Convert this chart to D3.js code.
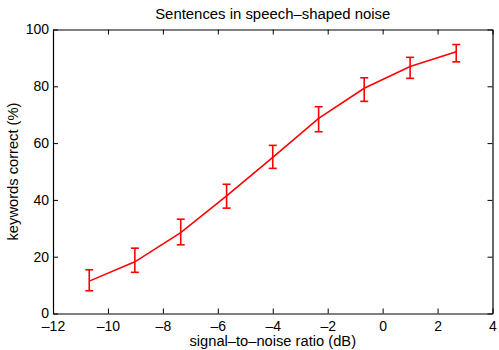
<!DOCTYPE html>
<html>
<head>
<meta charset="utf-8">
<script src="https://cdn.jsdelivr.net/npm/d3@7"></script>
<style>
  html, body { margin: 0; padding: 0; background: #fff; }
  svg text { font-family: "Liberation Sans", Arial, Helvetica, sans-serif; fill: #000; }
</style>
</head>
<body>
<div id="chart"></div>
<script>
// Speech intelligibility: keywords correct vs. SNR, with error bars
const snr      = [-10.68, -9.02, -7.35, -5.68, -4.0, -2.33, -0.67, 1.0, 2.68];
const correct  = [11.4, 18.2, 28.5, 41.4, 55.0, 68.7, 79.3, 87.0, 92.2];
const errUpper = [15.4, 23.0, 33.2, 45.5, 59.2, 72.8, 83.0, 90.2, 94.7];
const errLower = [8.0, 14.5, 24.2, 37.1, 51.1, 64.0, 74.7, 82.8, 88.6];
const xTicks = [-12, -10, -8, -6, -4, -2, 0, 2, 4];
const yTicks = [0, 20, 40, 60, 80, 100];

const W = 499, H = 350;
const margin = { left: 53, right: 6.5, top: 29.5, bottom: 36.5 };

const svg = d3.select("#chart").append("svg")
  .attr("width", W).attr("height", H);

const x = d3.scaleLinear().domain([-12, 4]).range([margin.left, W - margin.right]);
const y = d3.scaleLinear().domain([0, 100]).range([H - margin.bottom, margin.top]);

const fmt = d => (d < 0 ? "\u2013" + Math.abs(d) : String(d));

// Axes with inward ticks, box style
const gx = svg.append("g").attr("transform", `translate(0,${y(0)})`)
  .call(d3.axisBottom(x).tickValues(xTicks).tickSizeInner(-5).tickSizeOuter(0).tickPadding(8).tickFormat(fmt));
const gxTop = svg.append("g").attr("transform", `translate(0,${y(100)})`)
  .call(d3.axisTop(x).tickValues(xTicks).tickSizeInner(-5).tickSizeOuter(0).tickFormat(""));
const gy = svg.append("g").attr("transform", `translate(${x(-12)},0)`)
  .call(d3.axisLeft(y).tickValues(yTicks).tickSizeInner(-5).tickSizeOuter(0).tickPadding(4).tickFormat(fmt));
const gyRight = svg.append("g").attr("transform", `translate(${x(4)},0)`)
  .call(d3.axisRight(y).tickValues(yTicks).tickSizeInner(-5).tickSizeOuter(0).tickFormat(""));

[gx, gxTop, gy, gyRight].forEach(g => {
  g.select(".domain").attr("stroke", "#000").attr("stroke-width", 1.2);
  g.selectAll(".tick line").attr("stroke", "#000").attr("stroke-width", 1);
  g.selectAll(".tick text").attr("font-size", 14).attr("font-family", "Liberation Sans, Arial, sans-serif").attr("fill", "#000");
});

// Data line
const line = d3.line().x((d, i) => x(snr[i])).y(d => y(d));
svg.append("path")
  .datum(correct)
  .attr("d", line)
  .attr("fill", "none")
  .attr("stroke", "#ff0000")
  .attr("stroke-width", 1.6);

// Error bars
const cap = 4;
const eb = svg.append("g").attr("stroke", "#ff0000").attr("stroke-width", 1.6);
snr.forEach((s, i) => {
  const cx = x(s);
  eb.append("line").attr("x1", cx).attr("x2", cx).attr("y1", y(errUpper[i])).attr("y2", y(errLower[i]));
  eb.append("line").attr("x1", cx - cap).attr("x2", cx + cap).attr("y1", y(errUpper[i])).attr("y2", y(errUpper[i]));
  eb.append("line").attr("x1", cx - cap).attr("x2", cx + cap).attr("y1", y(errLower[i])).attr("y2", y(errLower[i]));
});

// Titles
const midX = (x(-12) + x(4)) / 2;
svg.append("text")
  .attr("x", midX).attr("y", 18.5)
  .attr("text-anchor", "middle").attr("font-size", 14.9)
  .text("Sentences in speech\u2013shaped noise");

svg.append("text")
  .attr("x", midX).attr("y", 345.5)
  .attr("text-anchor", "middle").attr("font-size", 14.7)
  .text("signal\u2013to\u2013noise ratio (dB)");

svg.append("text")
  .attr("transform", `translate(18,${(y(0) + y(100)) / 2}) rotate(-90)`)
  .attr("text-anchor", "middle").attr("font-size", 14.7)
  .text("keywords correct (%)");
</script>
</body>
</html>
